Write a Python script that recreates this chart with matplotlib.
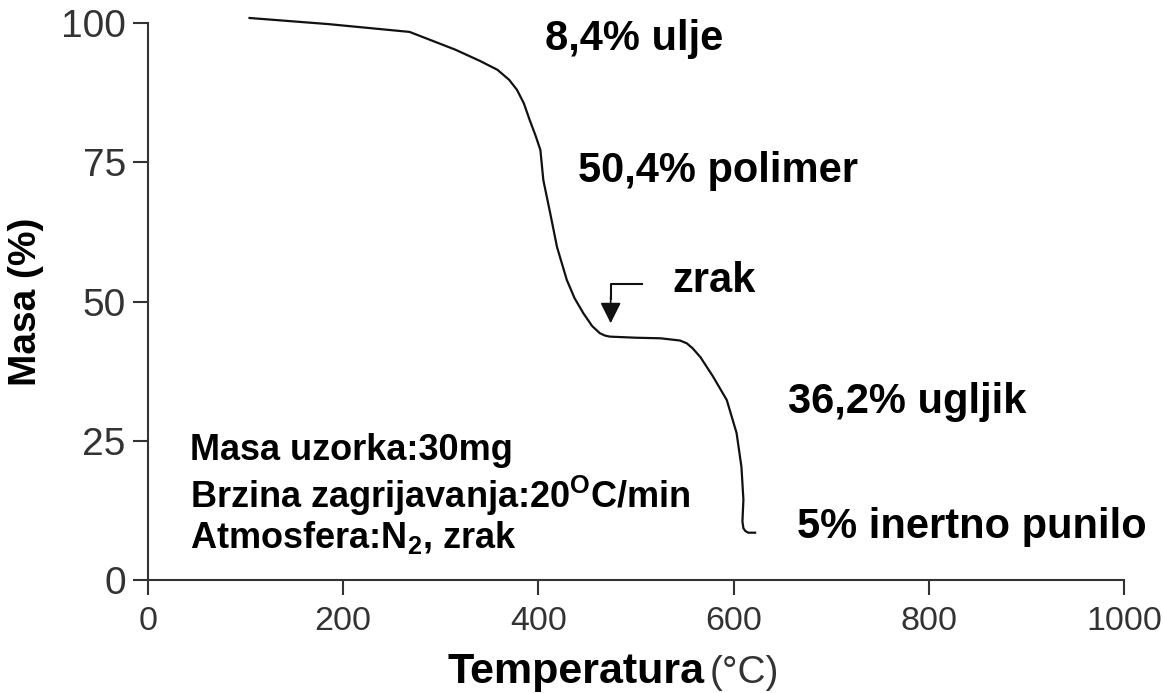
import matplotlib
matplotlib.use("Agg")
import matplotlib.pyplot as plt

# TGA curve
temperatura = [104, 185, 268, 315, 340, 358, 370, 378, 385, 391, 397, 402, 405, 412, 419,
               429, 437, 446, 455, 463, 468, 473, 500, 525, 545, 552, 558, 566, 579, 593,
               603, 608, 610, 609, 610, 612, 615, 622]
masa = [100.9, 99.8, 98.4, 95.2, 93.2, 91.6, 89.8, 88.0, 85.6, 82.6, 79.8, 77.2, 71.8, 65.9,
        59.8, 53.9, 50.6, 47.9, 45.6, 44.3, 43.9, 43.7, 43.5, 43.4, 43.0, 42.5, 41.6, 40.0,
        36.5, 32.3, 26.4, 20.3, 14.4, 10.5, 9.3, 8.8, 8.5, 8.5]

x_ticks = [0, 200, 400, 600, 800, 1000]
y_ticks = [0, 25, 50, 75, 100]

# labels of the mass loss steps: (text, x, y)
koraci = [
    ("8,4% ulje", 407, 95.2),
    ("50,4% polimer", 441, 71.5),
    ("zrak", 537, 51.7),
    ("36,2% ugljik", 656, 30.0),
    ("5% inertno punilo", 665, 7.5),
]
uvjeti = [
    ("Masa uzorka:30mg", 21.5),
    (r"Brzina zagrijavanja:20$^{\mathbf{O}}$C/min", 12.9),
    (r"Atmosfera:N$_{\mathbf{2}}$, zrak", 5.7),
]

plt.rcParams["font.family"] = "Liberation Sans"
plt.rcParams["mathtext.fontset"] = "custom"
plt.rcParams["mathtext.rm"] = "Liberation Sans"
plt.rcParams["mathtext.bf"] = "Liberation Sans:bold"

fig = plt.figure(figsize=(11.63, 6.93), dpi=100)
ax = fig.add_axes([0.1273, 0.163, 0.8392, 0.8038])

ax.plot(temperatura, masa, color="#111111", lw=1.6, clip_on=False,
        solid_joinstyle="round")

# arrow pointing at the switch to air
ax.plot([506, 474, 474], [53.1, 53.1, 50.5], color="#111111", lw=1.5)
ax.annotate("", xy=(474, 45.6), xytext=(474, 51.5),
            arrowprops=dict(arrowstyle="-|>", color="#111111", lw=1.2, mutation_scale=32))

for tekst, x, y in koraci:
    ax.text(x, y, tekst, fontsize=30, fontweight="bold", color="black", va="baseline")

for tekst, y in uvjeti:
    ax.text(43, y, tekst, fontsize=26, fontweight="bold", color="black", va="baseline")

ax.set_xlim(0, 1000)
ax.set_ylim(0, 100)
ax.set_xticks(x_ticks)
ax.set_yticks(y_ticks)
for s in ["top", "right"]:
    ax.spines[s].set_visible(False)
for s in ["left", "bottom"]:
    ax.spines[s].set_linewidth(1.5)
    ax.spines[s].set_color("#333333")
ax.tick_params(direction="out", length=11, width=1.5, color="#333333",
               labelcolor="#333333")
ax.tick_params(axis="y", labelsize=28, pad=5)
ax.tick_params(axis="x", labelsize=24.5, pad=8)

ax.set_ylabel("Masa (%)", fontsize=28, fontweight="bold", labelpad=12)
fig.text(0.385, 0.0145, "Temperatura", fontsize=31, fontweight="bold", ha="left",
         va="baseline")
fig.text(0.6105, 0.0145, "(°C)", fontsize=28, color="#333333", ha="left", va="baseline")

fig.savefig("out.png", dpi=100)
